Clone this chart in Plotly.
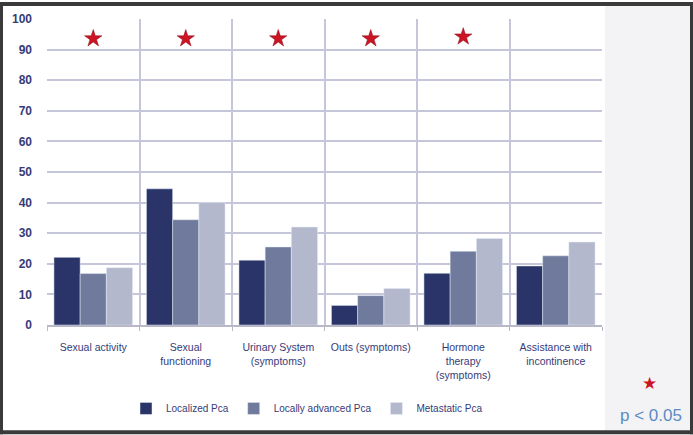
import plotly.graph_objects as go

categories = ["Sexual activity", "Sexual<br>functioning", "Urinary System<br>(symptoms)",
              "Outs (symptoms)", "Hormone<br>therapy<br>(symptoms)", "Assistance with<br>incontinence"]
localized = [22.1, 44.5, 21.2, 6.4, 16.9, 19.3]
locally_advanced = [16.8, 34.4, 25.5, 9.6, 24.1, 22.6]
metastatic = [18.7, 40.0, 32.0, 11.9, 28.3, 27.1]
significant = [categories[0], categories[1], categories[2], categories[3], categories[4]]
star_level = [93.6, 93.6, 93.6, 93.6, 94.2]

W, H = 693, 435
L, R, T, B = 47, 91, 17, 110
pw, ph = W - L - R, H - T - B

def px(x):
    return (x - L) / pw

def py(y):
    return (H - B - y) / ph

navy = "#363b78"
fig = go.Figure()
fig.add_trace(go.Bar(name="Localized Pca", x=categories, y=localized, marker_color="#2b3468"))
fig.add_trace(go.Bar(name="Locally advanced Pca", x=categories, y=locally_advanced, marker_color="#6f7a9c"))
fig.add_trace(go.Bar(name="Metastatic Pca", x=categories, y=metastatic, marker_color="#b4b8cc"))
fig.add_trace(go.Scatter(x=significant, y=star_level, mode="markers", showlegend=False,
                         marker=dict(symbol="star", size=13, color="#cc1424",
                                     line=dict(color="#8a0a14", width=0.5))))

shapes = [
    dict(type="rect", xref="paper", yref="paper", x0=px(605), x1=px(690), y0=py(431), y1=py(4),
         fillcolor="#f3f3f6", line_width=0, layer="below"),
]
border = "#3a3a3a"
for (x0, x1, y0, y1) in [(0, W, 0, 4), (0, W, 431, H), (0, 3, 0, H), (690, W, 0, H)]:
    shapes.append(dict(type="rect", xref="paper", yref="paper", x0=px(x0), x1=px(x1),
                       y0=py(y1), y1=py(y0), fillcolor=border, line_width=0, layer="above"))

fig.update_layout(
    width=W, height=H,
    margin=dict(l=L, r=R, t=T, b=B),
    paper_bgcolor="white", plot_bgcolor="white",
    barmode="group", bargap=0.15, bargroupgap=0,
    font=dict(family="Liberation Sans, Arial, sans-serif", color=navy),
    shapes=shapes,
    legend=dict(orientation="h", x=px(307), xanchor="center", y=py(409), yanchor="middle",
                font=dict(size=10, color=navy), bgcolor="rgba(0,0,0,0)", itemwidth=30,
                traceorder="normal"),
    annotations=[
        dict(xref="paper", yref="paper", x=px(649), y=py(384), text="★", showarrow=False,
             font=dict(size=17, color="#cc1424"), xanchor="center", yanchor="middle"),
        dict(xref="paper", yref="paper", x=px(651), y=py(416), text="p < 0.05", showarrow=False,
             font=dict(size=17, color="#5b8cc3"), xanchor="center", yanchor="middle"),
    ],
    xaxis=dict(tickson="boundaries", showgrid=True, gridcolor="#c5c6da", gridwidth=1.5,
               showline=True, linecolor="#b8b8c8", linewidth=1.5, mirror=False,
               ticks="outside", ticklen=4, tickcolor="#b8b8c8", ticklabelstandoff=12,
               tickfont=dict(size=10.5, color=navy), tickangle=0, range=[-0.5, 5.5]),
    yaxis=dict(range=[0, 100], dtick=10, showgrid=True, gridcolor="#c5c6da", gridwidth=1.5,
               zeroline=False, showline=False, ticks="", ticklabelstandoff=14,
               tickfont=dict(size=12, color=navy, family="Liberation Sans, Arial, sans-serif"),
               tickprefix="<b>", ticksuffix="</b>"),
)

fig.write_html("out.html", config={"displayModeBar": False},
               post_script="document.body.style.margin='0px';")
